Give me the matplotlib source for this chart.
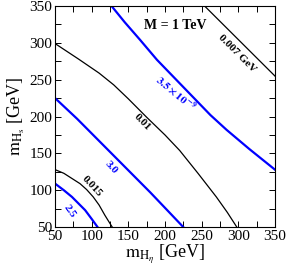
import matplotlib
matplotlib.use("Agg")
import matplotlib.pyplot as plt
from matplotlib.ticker import MultipleLocator

plt.rcParams['font.family'] = ['Liberation Serif', 'DejaVu Serif']
plt.rcParams['mathtext.fontset'] = 'stix'

# contour lines (m_Heta, m_Hs) in GeV
c007_x = [254, 350]
c007_y = [350, 255]
c01_x = [50, 82, 110, 130, 150, 175, 200, 220, 245, 270, 285, 298]
c01_y = [299, 278, 259, 243, 224, 199, 175, 154, 123, 91, 70, 50]
c015_x = [50, 62, 73, 84, 93, 102, 110, 118, 123, 128]
c015_y = [128, 123, 116, 109, 101, 91, 80, 66, 58, 50]
b35_x = [127, 145, 166, 189, 225, 262, 284, 315, 350]
b35_y = [350, 328, 304, 277, 240, 202, 182, 156, 128]
b30_x = [50, 80, 107, 130, 153, 180, 203, 225]
b30_y = [225, 197, 170, 147, 124, 97, 73, 50]
b25_x = [50, 62, 73, 82, 91, 100, 108]
b25_y = [109, 100, 91, 82, 73, 61, 50]

# label text, position, angle
black_labels = [('0.007 GeV', 298, 286, -45), ('0.01', 169, 192, -46), ('0.015', 100, 106, -47)]
blue_labels = [(r'$\mathbf{3.5\times10^{-9}}$', 215, 232, -40), ('3.0', 126, 131, -48), ('2.5', 69, 72, -55)]

fig = plt.figure(figsize=(2.87, 2.73), dpi=100)
ax = fig.add_axes([0.192, 0.168, 0.766, 0.81])

ax.plot(c007_x, c007_y, color='black', lw=0.9)
ax.plot(c01_x, c01_y, color='black', lw=0.9)
ax.plot(c015_x, c015_y, color='black', lw=0.9)
ax.plot(b35_x, b35_y, color='#0000ff', lw=1.6)
ax.plot(b30_x, b30_y, color='#0000ff', lw=1.6)
ax.plot(b25_x, b25_y, color='#0000ff', lw=1.6)

for txt, x, y, rot in black_labels:
    ax.text(x, y, txt, rotation=rot, ha='center', va='center', fontsize=8, fontweight='bold', color='black')
for txt, x, y, rot in blue_labels:
    ax.text(x, y, txt, rotation=rot, ha='center', va='center', fontsize=8, fontweight='bold', color='#0000ff')

ax.text(214, 324, 'M = 1 TeV', ha='center', va='center', fontsize=10, fontweight='bold')

ax.set_xlim(50, 350)
ax.set_ylim(50, 350)
ax.xaxis.set_major_locator(MultipleLocator(50))
ax.yaxis.set_major_locator(MultipleLocator(50))
ax.xaxis.set_minor_locator(MultipleLocator(25))
ax.yaxis.set_minor_locator(MultipleLocator(25))
ax.tick_params(which='both', direction='in', top=True, right=True, length=4.5, width=0.7)
ax.tick_params(which='major', labelsize=11, pad=2)
for s in ax.spines.values():
    s.set_linewidth(0.8)

ax.set_xlabel(r'$\mathrm{m}_{\mathrm{H}_\eta}$ [GeV]', fontsize=13, labelpad=0)
ax.set_ylabel(r'$\mathrm{m}_{\mathrm{H}_\mathrm{s}}$ [GeV]', fontsize=13, labelpad=2)

fig.savefig('out.png', dpi=100)
